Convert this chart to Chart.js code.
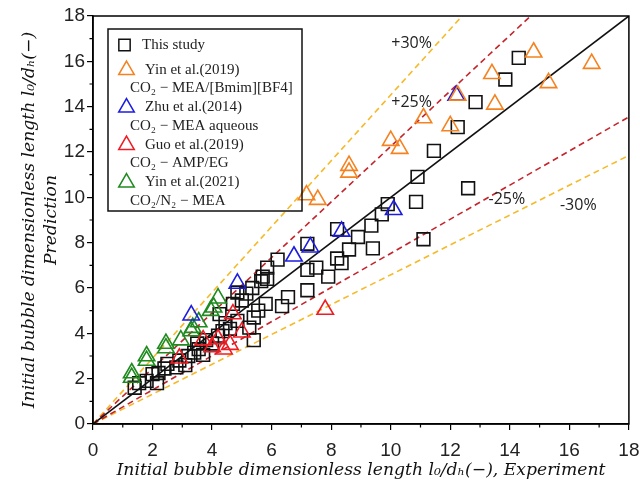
<!DOCTYPE html>
<html lang="en">
<head>
<meta charset="UTF-8">
<title>Initial bubble dimensionless length: prediction vs experiment</title>
<script src="https://cdn.jsdelivr.net/npm/chart.js"></script>
<style>
    body { margin: 0; background: #fff; }
    #wrap { width: 640px; height: 490px; }
</style>
</head>
<body>
<div id="wrap"><canvas id="parity" width="640" height="490"></canvas></div>
<script>
// [experiment, prediction] pairs
const thisStudy = [
    [1.4,1.6],[1.55,1.8],[1.8,1.9],[2.15,1.8],[2.0,2.2],[2.2,2.25],[2.4,2.45],[2.5,2.65],
    [2.8,2.5],[2.9,2.8],[3.1,2.6],[3.2,3.0],[3.4,3.15],[3.7,3.05],[3.55,3.3],[3.5,3.55],
    [3.8,3.7],[4.0,3.55],[4.2,3.9],[4.35,4.1],[4.6,4.2],[4.45,4.45],[4.25,4.85],[4.85,4.55],
    [4.7,5.3],[5.0,5.45],[4.85,5.8],[5.15,5.75],[5.35,6.0],[5.65,6.3],[5.55,5.0],[5.4,4.7],
    [5.25,4.25],[5.4,3.7],[5.8,5.3],[5.85,6.4],[5.7,6.5],[5.85,6.9],[6.2,7.25],[6.35,5.2],
    [6.55,5.6],[7.2,5.9],[7.2,6.8],[7.2,7.95],[7.5,6.9],[7.9,6.5],[8.2,8.6],[8.2,7.3],
    [8.35,7.1],[8.6,7.7],[8.9,8.25],[9.35,8.75],[9.4,7.75],[9.7,9.25],[9.9,9.7],[10.85,9.8],
    [10.9,10.9],[11.1,8.15],[11.45,12.05],[12.25,13.1],[12.6,10.4],[12.85,14.2],[13.85,15.2],[14.3,16.15]
];
const yin2019 = [
    [7.17,10.1],[7.55,9.9],[8.6,11.4],[8.6,11.1],[10.0,12.5],[10.3,12.15],[11.1,13.5],
    [12.0,13.15],[12.25,14.5],[13.4,15.45],[13.5,14.1],[14.8,16.4],[15.3,15.05],[16.75,15.9]
];
const zhu2014 = [[3.3,4.8],[4.85,6.2],[6.75,7.4],[7.3,7.8],[8.35,8.5],[10.1,9.45],[12.2,14.5]];
const guo2019 = [[2.9,2.9],[3.7,3.7],[4.0,3.4],[4.2,3.75],[4.4,3.3],[4.6,3.5],[4.7,4.85],[5.0,4.05],[7.8,5.05]];
const yin2021 = [
    [1.3,2.25],[1.3,2.05],[1.8,3.0],[1.8,2.8],[2.45,3.55],[2.45,3.35],[2.95,3.7],
    [3.3,4.1],[3.35,4.25],[3.55,4.5],[3.95,5.0],[4.05,5.15],[4.2,5.55]
];

// error band end points, all from the origin
const parityLine = [[0,0],[18,18]];
const plus30 = [[0,0],[12.4,18]];
const plus25 = [[0,0],[14.7,18]];
const minus25 = [[0,0],[18,13.55]];
const minus30 = [[0,0],[18,11.85]];

const bandLabels = [
    { text: '+30%', x: 10.7, y: 16.8 },
    { text: '+25%', x: 10.7, y: 14.2 },
    { text: '-25%', x: 13.9, y: 9.9 },
    { text: '-30%', x: 16.3, y: 9.65 }
];

const legendRows = [
    { name: 'This study', sub: null, style: 'rect', color: '#111' },
    { name: 'Yin et al.(2019)', sub: 'CO\u2082 \u2212 MEA/[Bmim][BF4]', style: 'triangle', color: '#f58220' },
    { name: 'Zhu et al.(2014)', sub: 'CO\u2082 \u2212 MEA aqueous', style: 'triangle', color: '#1c1ce0' },
    { name: 'Guo et al.(2019)', sub: 'CO\u2082 \u2212 AMP/EG', style: 'triangle', color: '#ee1c24' },
    { name: 'Yin et al.(2021)', sub: 'CO\u2082/N\u2082 \u2212 MEA', style: 'triangle', color: '#1f8a1f' }
];

const toXY = arr => arr.map(p => ({ x: p[0], y: p[1] }));

function pointSet(label, data, style, color) {
    return {
        label: label,
        data: toXY(data),
        pointStyle: style,
        pointRadius: style === 'rect' ? 9 : 9.5,
        pointBorderColor: color,
        pointBackgroundColor: 'rgba(0,0,0,0)',
        pointBorderWidth: 1.6,
        showLine: false
    };
}

function lineSet(data, color, dash) {
    return {
        data: toXY(data),
        showLine: true,
        borderColor: color,
        borderWidth: 1.6,
        borderDash: dash,
        pointRadius: 0
    };
}

// box around the plot, minor ticks, band labels and the legend
const decorations = {
    id: 'decorations',
    afterDraw(chart) {
        const ctx = chart.ctx;
        const a = chart.chartArea;
        const xs = chart.scales.x, ys = chart.scales.y;
        ctx.save();
        ctx.strokeStyle = '#000';
        ctx.lineWidth = 1.5;
        ctx.strokeRect(a.left, a.top, a.right - a.left, a.bottom - a.top);

        ctx.lineWidth = 1.2;
        for (let v = 1; v < 18; v += 2) {
            const px = xs.getPixelForValue(v);
            const py = ys.getPixelForValue(v);
            ctx.beginPath();
            ctx.moveTo(px, a.bottom); ctx.lineTo(px, a.bottom + 3.5);
            ctx.moveTo(a.left, py); ctx.lineTo(a.left - 3.5, py);
            ctx.stroke();
        }

        ctx.fillStyle = '#222';
        ctx.font = '16px "Open Sans", sans-serif';
        ctx.textAlign = 'center';
        ctx.textBaseline = 'middle';
        bandLabels.forEach(l => {
            ctx.fillText(l.text, xs.getPixelForValue(l.x), ys.getPixelForValue(l.y));
        });

        // legend
        ctx.strokeStyle = '#111';
        ctx.lineWidth = 1.5;
        ctx.strokeRect(108, 29, 194, 182);
        ctx.textAlign = 'left';
        ctx.font = '15px "Liberation Serif", serif';
        let y = 45;
        legendRows.forEach((r, i) => {
            const mx = r.style === 'rect' ? 124.5 : 126.5;
            ctx.strokeStyle = r.color;
            ctx.fillStyle = 'rgba(0,0,0,0)';
            Chart.helpers.drawPoint(ctx, { pointStyle: r.style, radius: r.style === 'rect' ? 8 : 9, borderWidth: 1.6 }, mx, y);
            ctx.fillStyle = '#222';
            ctx.fillText(r.name, i === 0 ? 142 : 145, y);
            if (r.sub) {
                ctx.fillText(r.sub, 130, y + 18.5);
                y += 37.5;
            } else {
                y += 25;
            }
        });
        ctx.restore();
    }
};

const tickFont = { family: '"Liberation Sans", Arial, sans-serif', size: 19 };
const titleFont = { family: '"DejaVu Serif", serif', size: 17.2, style: 'italic', lineHeight: 1.27 };

function axis(titleText, isX) {
    return {
        type: 'linear',
        min: 0,
        max: 18,
        ticks: { stepSize: 2, autoSkip: false, color: '#222', font: tickFont, padding: isX ? 9 : 2, maxRotation: 0 },
        grid: { drawOnChartArea: false, color: '#000', lineWidth: 1.2, tickLength: 6 },
        border: { color: '#000', width: 1.5 },
        title: {
            display: true, text: titleText, color: '#111', font: titleFont,
            padding: isX ? { top: 0, bottom: 9 } : { top: 19, bottom: 0 }
        },
        afterFit(scale) {
            scale.paddingLeft = 0; scale.paddingRight = 0;
            scale.paddingTop = 0; scale.paddingBottom = 0;
            if (isX) scale.height = 66; else scale.width = 93;
        }
    };
}

new Chart(document.getElementById('parity'), {
    type: 'scatter',
    data: {
        datasets: [
            pointSet('Yin et al.(2019)', yin2019, 'triangle', '#f58220'),
            pointSet('Zhu et al.(2014)', zhu2014, 'triangle', '#1c1ce0'),
            pointSet('Guo et al.(2019)', guo2019, 'triangle', '#ee1c24'),
            pointSet('Yin et al.(2021)', yin2021, 'triangle', '#1f8a1f'),
            pointSet('This study', thisStudy, 'rect', '#111'),
            lineSet(parityLine, '#111', []),
            lineSet(plus25, '#c4242b', [6, 4]),
            lineSet(minus25, '#c4242b', [6, 4]),
            lineSet(plus30, '#f6b928', [6, 4]),
            lineSet(minus30, '#f6b928', [6, 4])
        ]
    },
    options: {
        responsive: false,
        animation: false,
        layout: { padding: { top: 16, right: 8, left: 0, bottom: 0 } },
        plugins: { legend: { display: false }, tooltip: { enabled: false } },
        scales: {
            x: axis('Initial bubble dimensionless length l\u2080/d\u2095(\u2212), Experiment', true),
            y: axis(['Initial bubble dimensionless length l\u2080/d\u2095(\u2212)', 'Prediction'], false)
        }
    },
    plugins: [decorations]
});
</script>
</body>
</html>
